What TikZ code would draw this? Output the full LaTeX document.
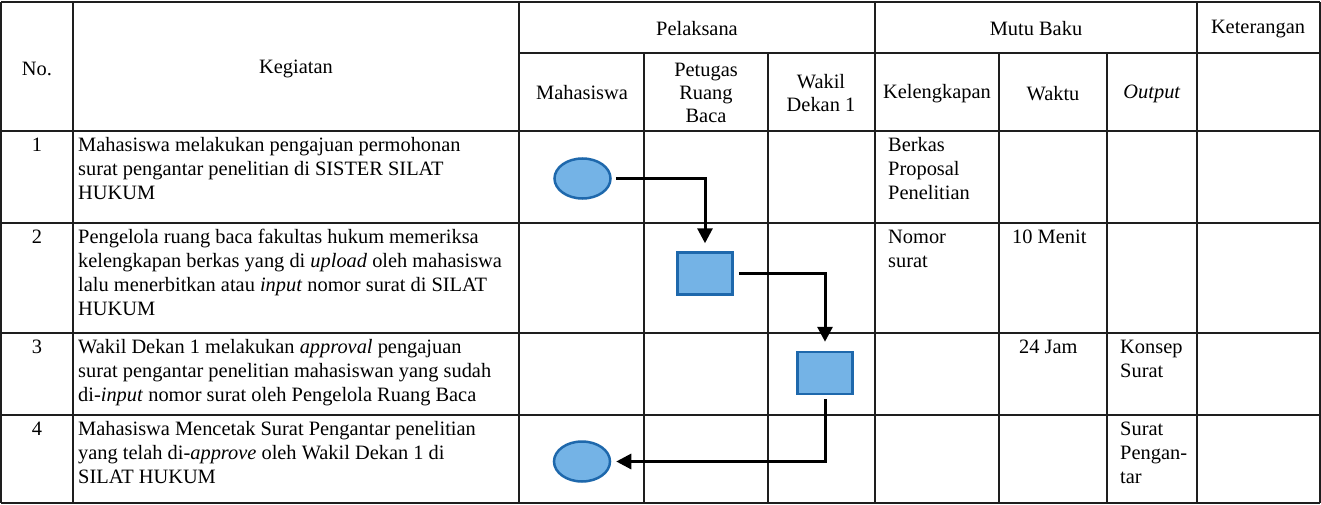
\documentclass[tikz,border=0pt]{standalone}
\usepackage{fontspec}
\setmainfont{Liberation Serif}
\usetikzlibrary{arrows.meta,shapes.geometric}
\definecolor{shapefill}{RGB}{116,179,230}
\definecolor{shapedraw}{RGB}{30,104,172}
\definecolor{gridcol}{RGB}{30,30,30}
\newcommand{\lnstrut}{\rule{0pt}{15pt}}
\begin{document}
\begin{tikzpicture}[x=1pt,y=-1pt,
  grid/.style={line width=1.2pt, draw=gridcol},
  txt/.style={font=\fontsize{20.4}{24}\selectfont, inner sep=0pt, align=left, anchor=north west},
  numtxt/.style={font=\fontsize{20.4}{24}\selectfont, inner sep=0pt, anchor=north},
  ctxt/.style={font=\fontsize{20.4}{23}\selectfont, inner sep=0pt, align=center},
  term/.style={ellipse, draw=shapedraw, fill=shapefill, line width=2.5pt, minimum width=56pt, minimum height=40pt, inner sep=0pt},
  proc/.style={rectangle, draw=shapedraw, fill=shapefill, line width=2.5pt, minimum width=55pt, minimum height=42pt, inner sep=0pt},
  flow/.style={line width=3pt, -{Triangle[width=15pt,length=15pt]}}
]
\useasboundingbox[fill=white] (0,0) rectangle (1321,505);

% ---- grid ----
\draw[grid] (1,2) -- (1320,2);
\draw[grid] (519,53) -- (1320,53);
\foreach \yy in {131,223,333,415,503} \draw[grid] (1,\yy) -- (1320,\yy);
\foreach \xx in {1,73,519,875,1197,1320} \draw[grid] (\xx,2) -- (\xx,503);
\foreach \xx in {644,768,999,1107} \draw[grid] (\xx,53) -- (\xx,503);

% ---- header ----
\node[ctxt] (hno) at (37,69) {No.};
\node[ctxt] (hkeg) at (296,69) {Kegiatan};
\node[ctxt] (hpel) at (697,29) {Pelaksana};
\node[ctxt] (hmutu) at (1036,29) {Mutu Baku};
\node[ctxt] (hket) at (1258,29) {Keterangan};
\node[ctxt] (hmhs) at (582,93) {Mahasiswa};
\node[ctxt] (hptg) at (706,93) {Petugas\\Ruang\\Baca};
\node[ctxt] (hwd) at (821,93) {Wakil\\Dekan 1};
\node[ctxt] (hkel) at (937,94) {Kelengkapan};
\node[ctxt] (hwkt) at (1053,94) {Waktu};
\node[ctxt] (hout) at (1152,94) {\textit{Output}};

% ---- numbers ----
\node[numtxt] (n1) at (37,136) {\lnstrut 1};
\node[numtxt] (n2) at (37,228) {\lnstrut 2};
\node[numtxt] (n3) at (37,338) {\lnstrut 3};
\node[numtxt] (n4) at (37,420) {\lnstrut 4};

% ---- kegiatan ----
\node[txt] (k1) at (78,136) {\lnstrut Mahasiswa melakukan pengajuan permohonan\\surat pengantar penelitian di SISTER SILAT\\HUKUM};
\node[txt] (k2) at (78,228) {\lnstrut Pengelola ruang baca fakultas hukum memeriksa\\kelengkapan berkas yang di \textit{upload} oleh mahasiswa\\lalu menerbitkan atau \textit{input} nomor surat di SILAT\\HUKUM};
\node[txt] (k3) at (78,338) {\lnstrut Wakil Dekan 1 melakukan \textit{approval} pengajuan\\surat pengantar penelitian mahasiswan yang sudah\\di-\textit{input} nomor surat oleh Pengelola Ruang Baca};
\node[txt] (k4) at (78,420) {\lnstrut Mahasiswa Mencetak Surat Pengantar penelitian\\yang telah di-\textit{approve} oleh Wakil Dekan 1 di\\SILAT HUKUM};

% ---- mutu baku ----
\node[txt] (m1) at (888,136) {\lnstrut Berkas\\Proposal\\Penelitian};
\node[txt] (m2) at (888,228) {\lnstrut Nomor\\surat};
\node[txt] (w2) at (1012,228) {\lnstrut 10 Menit};
\node[txt] (w3) at (1019,338) {\lnstrut 24 Jam};
\node[txt] (o3) at (1120,338) {\lnstrut Konsep\\Surat};
\node[txt] (o4) at (1120,420) {\lnstrut Surat\\Pengan-\\tar};

% ---- flow shapes ----
\node[term] (e1) at (582.5,178.5) {};
\node[proc] (s2) at (705,273.5) {};
\node[proc] (s3) at (825,373) {};
\node[term] (e4) at (582,461.5) {};

% ---- connectors ----
\draw[flow, shorten <=4pt, shorten >=8pt] (e1.east) -| (s2.north);
\draw[flow, shorten <=5pt, shorten >=9pt] (s2.east) -| (s3.north);
\draw[flow, shorten <=4pt, shorten >=5pt] (s3.south) |- (e4.east);
\end{tikzpicture}
\end{document}
